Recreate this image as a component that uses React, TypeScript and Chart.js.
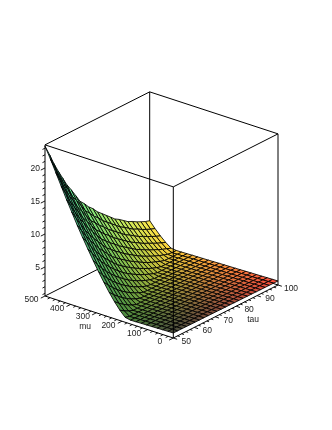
import React, { useEffect, useRef } from "react";
import { Chart, registerables } from "chart.js";

Chart.register(...registerables);

const muGrid = [0,20.8,41.7,62.5,83.3,104.2,125,145.8,166.7,187.5,208.3,229.2,250,270.8,291.7,312.5,333.3,354.2,375,395.8,416.7,437.5,458.3,479.2,500];
const tauGrid = [50,52.1,54.2,56.3,58.3,60.4,62.5,64.6,66.7,68.8,70.8,72.9,75,77.1,79.2,81.3,83.3,85.4,87.5,89.6,91.7,93.8,95.8,97.9,100];

const c00 = [1.36,1.34,1.32,1.29,1.27,1.25,1.23,1.20,1.18,1.34,2.16,3.19,4.34,5.61,6.95,8.38,9.86,11.38,12.96,14.64,16.32,18.1,19.87,21.65,23.3];
const c01 = [1.35,1.33,1.31,1.28,1.26,1.24,1.22,1.19,1.17,1.15,1.72,2.61,3.65,4.82,6.08,7.39,8.82,10.27,11.75,13.33,14.91,16.59,18.26,19.94,21.72];
const c02 = [1.35,1.33,1.31,1.28,1.26,1.24,1.22,1.19,1.17,1.15,1.36,2.11,3.06,4.13,5.28,6.53,7.84,9.23,10.61,12.13,13.61,15.09,16.76,18.34,20.02];
const c03 = [1.34,1.32,1.30,1.27,1.25,1.23,1.21,1.18,1.16,1.14,1.12,1.68,2.52,3.47,4.55,5.70,6.95,8.22,9.56,10.92,12.40,13.88,15.35,16.93,18.51];
const c04 = [1.33,1.31,1.29,1.26,1.24,1.22,1.20,1.17,1.15,1.13,1.11,1.34,2.06,2.94,3.94,5.03,6.20,7.40,8.67,9.98,11.39,12.77,14.24,15.72,17.20];
const c05 = [1.33,1.31,1.29,1.26,1.24,1.22,1.20,1.17,1.15,1.13,1.11,1.09,1.66,2.45,3.36,4.36,5.45,6.56,7.77,9.00,10.28,11.57,12.94,14.32,15.80];
const c06 = [1.32,1.30,1.28,1.25,1.23,1.21,1.19,1.16,1.14,1.12,1.10,1.08,1.33,2.02,2.84,3.78,4.79,5.86,6.99,8.17,9.40,10.67,11.93,13.31,14.69];
const c07 = [1.32,1.30,1.28,1.25,1.23,1.21,1.19,1.16,1.14,1.12,1.10,1.08,1.09,1.65,2.39,3.24,4.18,5.17,6.23,7.34,8.50,9.69,10.93,12.21,13.49];
const c08 = [1.31,1.29,1.27,1.24,1.22,1.20,1.18,1.15,1.13,1.11,1.09,1.07,1.04,1.32,1.97,2.73,3.58,4.50,5.48,6.51,7.59,8.72,9.86,11.10,12.28];
const c09 = [1.30,1.28,1.26,1.23,1.21,1.19,1.17,1.14,1.12,1.10,1.08,1.06,1.03,1.07,1.61,2.32,3.12,4.00,4.95,5.96,6.99,8.09,9.21,10.37,11.57];
const c10 = [1.30,1.28,1.26,1.23,1.21,1.19,1.17,1.14,1.12,1.10,1.08,1.06,1.03,1.01,1.32,1.95,2.70,3.52,4.42,5.37,6.37,7.42,8.49,9.61,10.77];
const c11 = [1.29,1.27,1.25,1.22,1.20,1.18,1.16,1.13,1.11,1.09,1.07,1.05,1.02,1.00,1.07,1.63,2.31,3.09,3.96,4.89,5.86,6.88,7.93,9.03,10.16];
const c12 = [1.28,1.26,1.24,1.21,1.19,1.17,1.15,1.12,1.10,1.08,1.06,1.04,1.01,.99,.97,1.32,1.94,2.65,3.46,4.33,5.24,6.22,7.22,8.26,9.35];
const c13 = [1.28,1.26,1.24,1.21,1.19,1.17,1.15,1.12,1.10,1.08,1.06,1.04,1.01,.99,.97,1.09,1.62,2.28,3.05,3.88,4.77,5.70,6.68,7.69,8.75];
const c14 = [1.27,1.25,1.23,1.20,1.18,1.16,1.14,1.11,1.09,1.07,1.05,1.03,1.00,.98,.96,.94,1.33,1.93,2.65,3.44,4.29,5.19,6.13,7.12,8.14];
const c15 = [1.26,1.24,1.22,1.19,1.17,1.15,1.13,1.10,1.08,1.06,1.04,1.02,.99,.97,.95,.93,1.07,1.59,2.25,3.00,3.81,4.68,5.58,6.54,7.53];
const c16 = [1.26,1.24,1.22,1.19,1.17,1.15,1.13,1.10,1.08,1.06,1.04,1.02,.99,.97,.95,.93,.91,1.31,1.91,2.61,3.37,4.20,5.06,5.98,6.93];
const c17 = [1.25,1.23,1.21,1.18,1.16,1.14,1.12,1.09,1.07,1.05,1.03,1.01,.98,.96,.94,.92,.90,1.06,1.60,2.26,3.01,3.82,4.67,5.57,6.52];
const c18 = [1.25,1.23,1.21,1.18,1.16,1.14,1.12,1.09,1.07,1.05,1.03,1.01,.98,.96,.94,.92,.90,.87,1.33,1.93,2.63,3.40,4.22,5.10,6.02];
const c19 = [1.24,1.22,1.20,1.17,1.15,1.13,1.11,1.08,1.06,1.04,1.02,1.00,.97,.95,.93,.91,.89,.86,1.07,1.62,2.27,3.00,3.78,4.62,5.51];
const c20 = [1.23,1.21,1.19,1.16,1.14,1.12,1.10,1.07,1.05,1.03,1.01,.99,.96,.94,.92,.90,.88,.85,.87,1.35,1.96,2.69,3.47,4.31,5.20];
const c21 = [1.23,1.21,1.19,1.16,1.14,1.12,1.10,1.07,1.05,1.03,1.01,.99,.96,.94,.92,.90,.88,.85,.83,1.09,1.65,2.34,3.10,3.91,4.80];
const c22 = [1.22,1.20,1.18,1.15,1.13,1.11,1.09,1.06,1.04,1.02,1.00,.98,.95,.93,.91,.89,.87,.84,.82,.88,1.37,2.04,2.79,3.60,4.49];
const c23 = [1.22,1.20,1.18,1.15,1.13,1.11,1.09,1.06,1.04,1.02,1.00,.98,.95,.93,.91,.89,.87,.84,.82,.80,1.12,1.75,2.48,3.29,4.19];
const c24 = [1.21,1.19,1.17,1.14,1.12,1.10,1.08,1.05,1.03,1.01,.99,.97,.94,.92,.90,.88,.86,.83,.81,.79,.88,1.48,2.21,3.05,3.98];
const zByTau = [c00,c01,c02,c03,c04,c05,c06,c07,c08,c09,c10,c11,c12,c13,c14,c15,c16,c17,c18,c19,c20,c21,c22,c23,c24];

const muTickLabels = [0,100,200,300,400,500];
const tauTickLabels = [50,60,70,80,90,100];
const zTickLabels = [5,10,15,20];
const muMinor = [0,20,40,60,80,100,120,140,160,180,200,220,240,260,280,300,320,340,360,380,400,420,440,460,480,500];
const tauMinor = [50,52,54,56,58,60,62,64,66,68,70,72,74,76,78,80,82,84,86,88,90,92,94,96,98,100];
const zMinor = [1,2,3,4,5,6,7,8,9,10,11,12,13,14,15,16,17,18,19,20,21,22,23];

const MU_MAX = 500, TAU_MIN = 50, TAU_MAX = 100, Z_MIN = 0.6, Z_MAX = 23.5;

function project(mu: number, tau: number, z: number) {
  const m = mu / MU_MAX;
  const t = (tau - TAU_MIN) / (TAU_MAX - TAU_MIN);
  return { x: 173.3 - 128.3 * m + 104.7 * t, y: 338 - 42 * m - 53 * t - (z - Z_MIN) * 6.6 };
}

function quadColor(mu: number, tau: number, z: number) {
  const m = mu / MU_MAX;
  const t = (tau - TAU_MIN) / (TAU_MAX - TAU_MIN);
  const zf = (z - Z_MIN) / (Z_MAX - Z_MIN);
  const r = 0.3 + 0.7 * Math.pow(t, 1.3);
  const g = 0.3 + 0.62 * m;
  const b = 0.22 + 0.6 * zf;
  return `rgb(${Math.round(r * 255)},${Math.round(g * 255)},${Math.round(b * 255)})`;
}

function lineSet(data: { x: number; y: number }[], color = "#000", width = 1) {
  return { data, showLine: true, fill: false, borderColor: color, borderWidth: width, pointRadius: 0, tension: 0, spanGaps: false, clip: false as const };
}

function ticks(points: number[][]) {
  const out: { x: number; y: number }[] = [];
  for (const [a, b, c, d, e, f] of points) {
    out.push(project(a, b, c), project(d, e, f), { x: NaN, y: NaN });
  }
  return out;
}

function buildDatasets() {
  const sets: any[] = [];
  // front edges and ticks: first in the list, drawn last
  const bz = Z_MIN, tz = Z_MAX;
  sets.push(lineSet([project(0, 50, bz), project(0, 50, tz)]));
  sets.push(lineSet([project(500, 50, tz), project(0, 50, tz), project(0, 100, tz)]));
  sets.push(lineSet([project(500, 50, bz), project(0, 50, bz), project(0, 100, bz)]));
  sets.push(lineSet([project(500, 50, bz), project(500, 50, tz)]));
  sets.push(lineSet(ticks(muMinor.map((mu) => [mu, 50, bz, mu, mu % 100 === 0 ? 48 : 48.8, bz])), "#000", 0.9));
  sets.push(lineSet(ticks(tauMinor.map((tau) => [0, tau, bz, tau % 10 === 0 ? -15 : -9, tau, bz])), "#000", 0.9));
  sets.push(lineSet(ticks(zMinor.map((z) => [500, 50, z, 500, z % 5 === 0 ? 48 : 48.8, z])), "#000", 0.9));
  // surface, front to back
  for (let i = 0; i < muGrid.length - 1; i++) {
    for (let j = 0; j < tauGrid.length - 1; j++) {
      const zA = zByTau[j][i], zB = zByTau[j + 1][i], zC = zByTau[j + 1][i + 1], zD = zByTau[j][i + 1];
      const p = [
        project(muGrid[i], tauGrid[j], zA),
        project(muGrid[i], tauGrid[j + 1], zB),
        project(muGrid[i + 1], tauGrid[j + 1], zC),
        project(muGrid[i + 1], tauGrid[j], zD),
      ];
      p.push(p[0]);
      sets.push({
        ...lineSet(p, "#000", 0.85),
        fill: "shape",
        backgroundColor: quadColor((muGrid[i] + muGrid[i + 1]) / 2, (tauGrid[j] + tauGrid[j + 1]) / 2, (zA + zB + zC + zD) / 4),
      });
    }
  }
  // back edges, drawn first
  sets.push(lineSet([project(500, 50, tz), project(500, 100, tz), project(0, 100, tz)]));
  sets.push(lineSet([project(500, 50, bz), project(500, 100, bz), project(0, 100, bz)]));
  sets.push(lineSet([project(500, 100, bz), project(500, 100, tz)]));
  sets.push(lineSet([project(0, 100, bz), project(0, 100, tz)]));
  return sets;
}

const labelsPlugin = {
  id: "axisText",
  afterDraw(chart: any) {
    const { ctx, scales } = chart;
    const put = (text: string, p: { x: number; y: number }, dx: number, dy: number) => {
      ctx.fillText(text, scales.x.getPixelForValue(p.x) + dx, scales.y.getPixelForValue(p.y) + dy);
    };
    ctx.save();
    ctx.font = "8.5px 'Liberation Sans', Arial, sans-serif";
    ctx.fillStyle = "#222";
    ctx.textAlign = "center";
    ctx.textBaseline = "middle";
    muTickLabels.forEach((v) => put(String(v), project(v, 50, Z_MIN), -13.5, 4));
    tauTickLabels.forEach((v) => put(String(v), project(0, v, Z_MIN), 13, 3.5));
    put("mu", project(250, 50, Z_MIN), -24, 9.5);
    put("tau", project(0, 75, Z_MIN), 27.5, 8.5);
    ctx.textAlign = "right";
    zTickLabels.forEach((v) => put(String(v), project(500, 50, v), -5, 1));
    ctx.restore();
  },
};

export default function App() {
  const ref = useRef<HTMLCanvasElement>(null);
  useEffect(() => {
    const chart = new Chart(ref.current!, {
      type: "scatter",
      data: { datasets: buildDatasets() },
      options: {
        animation: false,
        responsive: false,
        events: [],
        layout: { padding: 0 },
        plugins: { legend: { display: false }, tooltip: { enabled: false } },
        scales: {
          x: { type: "linear", display: false, min: 0, max: 332 },
          y: { type: "linear", display: false, min: 0, max: 430, reverse: true },
        },
      },
      plugins: [labelsPlugin],
    } as any);
    return () => chart.destroy();
  }, []);
  return <canvas ref={ref} width={332} height={430} style={{ position: "absolute", left: 0, top: 0, display: "block" }} />;
}
